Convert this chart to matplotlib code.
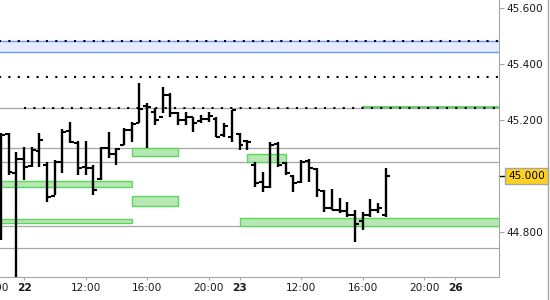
import numpy as np
import matplotlib.pyplot as plt
import matplotlib.transforms as mtransforms
from matplotlib.patches import Rectangle
from matplotlib.lines import Line2D

# 30 min bars, x = bar number (0 = 22nd 08:00, sessions run 08:00-22:00)
bar_idx = np.arange(-3, 48)
opens = [44.950, 45.150, 45.010, 45.060, 45.035, 45.090, 45.040, 44.930, 45.050, 45.160,
         45.118, 45.032, 45.030, 44.990, 45.100, 45.080, 45.111, 45.165, 45.190, 45.250,
         45.230, 45.210, 45.290, 45.225, 45.200, 45.210, 45.195, 45.205, 45.205, 45.145,
         45.140, 45.150, 45.125, 45.040, 44.980, 44.960, 45.115, 45.045, 45.000, 44.980,
         45.055, 45.025, 44.945, 44.885, 44.880, 44.875, 44.860, 44.840, 44.860, 44.880,
         44.860]
highs = [45.154, 45.154, 45.086, 45.104, 45.104, 45.154, 45.050, 45.057, 45.168, 45.193,
         45.125, 45.125, 45.039, 45.104, 45.157, 45.100, 45.171, 45.193, 45.332, 45.261,
         45.243, 45.318, 45.296, 45.229, 45.229, 45.211, 45.218, 45.229, 45.211, 45.189,
         45.236, 45.154, 45.129, 45.050, 45.014, 45.121, 45.121, 45.050, 45.004, 45.057,
         45.061, 45.029, 44.950, 44.954, 44.921, 44.907, 44.879, 44.872, 44.918, 44.904,
         45.029]
lows = [44.771, 45.004, 44.640, 44.986, 45.032, 45.032, 44.907, 44.932, 45.011, 45.118,
        45.004, 45.004, 44.932, 44.986, 45.064, 45.039, 45.111, 45.121, 45.189, 45.100,
        45.182, 45.225, 45.211, 45.182, 45.182, 45.157, 45.189, 45.193, 45.139, 45.139,
        45.121, 45.093, 45.093, 44.961, 44.943, 44.957, 45.032, 45.004, 44.943, 44.975,
        44.979, 44.925, 44.872, 44.879, 44.868, 44.854, 44.764, 44.807, 44.854, 44.868,
        44.854]
closes = [45.146, 45.014, 45.060, 45.032, 45.093, 45.129, 44.925, 45.050, 45.157, 45.121,
          45.030, 45.030, 44.950, 45.100, 45.080, 45.095, 45.165, 45.185, 45.240, 45.245,
          45.200, 45.290, 45.225, 45.200, 45.210, 45.190, 45.205, 45.215, 45.140, 45.180,
          45.236, 45.110, 45.120, 44.975, 44.960, 45.110, 45.040, 45.010, 44.975, 45.050,
          45.030, 44.950, 44.885, 44.880, 44.875, 44.860, 44.830, 44.860, 44.880, 44.885,
          45.000]

tick_pos = [0, 8, 16, 24, 28, 36, 44, 52, 56]
tick_lab = ['22', '12:00', '16:00', '20:00', '23', '12:00', '16:00', '20:00', '26']
day_labels = ['22', '23', '26']

y_ticks = [44.8, 45.2, 45.4, 45.6]
last_price = 45.0

levels = [45.243, 45.099, 45.049, 44.821, 44.743]
dotted = [45.482, 45.354, 45.243]
dotted_start = [-4, -4, 0]
band_lo, band_hi = 45.442, 45.482

zone_x0 = [-4, -4, 14, 14, 29, 28]
zone_x1 = [14, 14, 20, 20, 34, 64]
zone_lo = [44.961, 44.831, 45.071, 44.892, 45.049, 44.823]
zone_hi = [44.982, 44.846, 45.099, 44.929, 45.078, 44.850]
green_line_x0, green_line_y = 44, 45.248

plt.rcParams['font.family'] = 'DejaVu Sans'
fig = plt.figure(figsize=(5.5, 3), dpi=100)
ax = fig.add_axes([0, 23 / 300, 499 / 550, 277 / 300])
ax.set_xlim(-3.117, 61.69)
ax.set_ylim(44.6393, 45.6286)

grey = '#a6a6a6'
for lv in levels:
    ax.axhline(lv, color=grey, lw=0.9, zorder=1)

ax.axhspan(band_lo, band_hi, color='#e6ecff', zorder=1)
ax.axhline(band_lo, color='#6f9bf0', lw=1, zorder=2)
ax.axhline(band_hi, color='#6f9bf0', lw=1, zorder=2)

for y, x0 in zip(dotted, dotted_start):
    ax.plot([x0, 62], [y, y], color='black', lw=1.5, ls=(0, (1, 3.5)), zorder=3)

for x0, x1, lo, hi in zip(zone_x0, zone_x1, zone_lo, zone_hi):
    ax.add_patch(Rectangle((x0, lo), x1 - x0, hi - lo, fc='#b6e8b4', ec='#5cd65c', lw=1, zorder=2))
ax.plot([green_line_x0, 64], [green_line_y, green_line_y], color='#55cc55', lw=1.3, zorder=2)

# OHLC bars
t = 0.5
ax.vlines(bar_idx, lows, highs, color='black', lw=1.7, zorder=4)
ax.hlines(opens, bar_idx - t, bar_idx, color='black', lw=1.5, zorder=4)
ax.hlines(closes, bar_idx, bar_idx + t, color='black', lw=1.5, zorder=4)

for s in ['left', 'top']:
    ax.spines[s].set_visible(False)
for s in ['right', 'bottom']:
    ax.spines[s].set_color(grey)

ax.yaxis.tick_right()
ax.set_yticks(y_ticks)
ax.set_yticklabels(['%.3f' % v for v in y_ticks])
ax.tick_params(axis='y', length=3.6, pad=2, color=grey, labelsize=7.6, labelcolor='#1a1a1a')
ax.set_xticks(tick_pos)
ax.set_xticklabels(tick_lab)
ax.tick_params(axis='x', length=2.2, pad=2, color=grey, labelsize=7.6, labelcolor='#1a1a1a')
for lab in ax.get_xticklabels():
    if lab.get_text() in day_labels:
        lab.set_fontweight('bold')

# half hidden label of the previous day
ax.annotate('20:00', xy=(-4, 0), xycoords=mtransforms.blended_transform_factory(ax.transData, ax.transAxes),
            xytext=(0, -4.2), textcoords='offset points', ha='center', va='top',
            fontsize=7.6, color='#1a1a1a', annotation_clip=False)

# last price badge
ax.plot([1.0, 1.012], [last_price, last_price], color='black', lw=1,
        transform=mtransforms.blended_transform_factory(ax.transAxes, ax.transData), clip_on=False)
ax.text(1.018, last_price, '%.3f' % last_price, transform=mtransforms.blended_transform_factory(ax.transAxes, ax.transData),
        ha='left', va='center', fontsize=7.6, color='black',
        bbox=dict(boxstyle='square,pad=0.3', fc='#ffd21f', ec='#a6a6a6', lw=1))

fig.add_artist(Line2D([547.5 / 550] * 2, [0, 1], transform=fig.transFigure, color=grey, lw=1))

fig.savefig('out.png', dpi=100)
